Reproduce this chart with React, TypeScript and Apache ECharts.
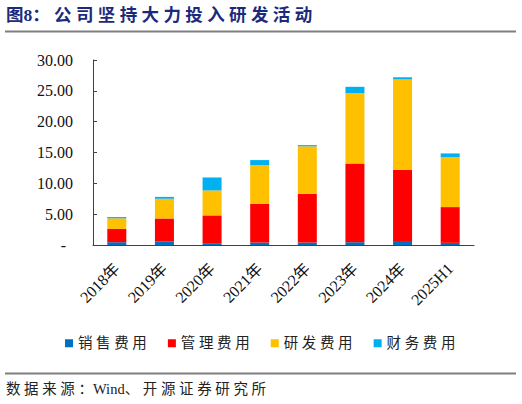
import { useEffect, useRef } from 'react';
import * as echarts from 'echarts';

const categories = ['2018年', '2019年', '2020年', '2021年', '2022年', '2023年', '2024年', '2025H1'];
const salesExp = [0.45, 0.6, 0.3, 0.4, 0.4, 0.45, 0.65, 0.35];
const adminExp = [2.15, 3.7, 4.5, 6.3, 7.9, 12.75, 11.55, 5.8];
const rndExp = [1.73, 3.2, 4.05, 6.27, 7.7, 11.45, 14.65, 8.1];
const financeExp = [0.2, 0.3, 2.1, 0.8, 0.2, 1.0, 0.35, 0.6];
const seriesNames = ['销售费用', '管理费用', '研发费用', '财务费用'];

const title = '图8： 公 司 坚 持 大 力 投 入 研 发 活 动';
const source = '数 据 来 源 ：Wind、 开 源 证 券 研 究 所';

const SERIF = '"Liberation Serif", "Noto Sans CJK SC", serif';
const colors = ['#0070C0', '#FF0000', '#FFC000', '#00B0F0'];

export default function App() {
  const chartRef = useRef<HTMLDivElement | null>(null);

  useEffect(() => {
    if (!chartRef.current) return;
    const chart = echarts.init(chartRef.current, undefined, { renderer: 'svg' });

    const values = [salesExp, adminExp, rndExp, financeExp];

    chart.setOption({
      animation: false,
      textStyle: { fontFamily: SERIF },
      grid: { left: 93, right: 48, top: 60, bottom: 159, containLabel: false },
      legend: {
        data: seriesNames,
        left: 60,
        top: 331,
        itemWidth: 8,
        itemHeight: 8,
        itemGap: 21,
        icon: 'rect',
        formatter: (name: string) => name.split('').join(' '),
        textStyle: { fontFamily: SERIF, fontSize: 14.5, color: '#222' }
      },
      xAxis: {
        type: 'category',
        data: categories,
        axisLine: { lineStyle: { color: '#404040', width: 1 } },
        axisTick: { inside: true, length: 4, lineStyle: { color: '#404040' } },
        axisLabel: {
          rotate: 45,
          margin: 21,
          fontSize: 16,
          color: '#111',
          fontFamily: SERIF
        }
      },
      yAxis: {
        type: 'value',
        min: 0,
        max: 30,
        interval: 5,
        splitLine: { show: false },
        axisLine: { show: true, lineStyle: { color: '#404040', width: 1 } },
        axisTick: { show: true, inside: true, length: 4, lineStyle: { color: '#404040' } },
        axisLabel: {
          margin: 20,
          fontSize: 16,
          color: '#111',
          fontFamily: SERIF,
          formatter: (v: number) => (v === 0 ? '{d|-}' : v.toFixed(2)),
          rich: { d: { fontSize: 16, fontFamily: SERIF, color: '#111', padding: [0, 7, 0, 0] } }
        }
      },
      series: seriesNames.map((name, i) => ({
        name,
        type: 'bar',
        stack: 'total',
        barWidth: 19,
        itemStyle: { color: colors[i] },
        data: values[i]
      })),
      graphic: [
        {
          type: 'text',
          left: 6,
          top: 6,
          style: {
            text: title,
            fontSize: 17.5,
            fontWeight: 'bold',
            fontFamily: SERIF,
            fill: '#1c2a7c'
          }
        },
        {
          type: 'line',
          shape: { x1: 5, y1: 31.5, x2: 516, y2: 31.5 },
          style: { stroke: '#7f7f7f', lineWidth: 2 }
        },
        {
          type: 'line',
          shape: { x1: 5, y1: 373.5, x2: 516, y2: 373.5 },
          style: { stroke: '#7f7f7f', lineWidth: 2 }
        },
        {
          type: 'text',
          left: 6,
          top: 382,
          style: {
            text: source,
            fontSize: 14.5,
            fontFamily: SERIF,
            fill: '#222'
          }
        }
      ]
    });

    return () => {
      chart.dispose();
    };
  }, []);

  return (
    <div
      ref={chartRef}
      style={{ position: 'fixed', left: 0, top: 0, width: 522, height: 404, background: '#fff' }}
    />
  );
}
